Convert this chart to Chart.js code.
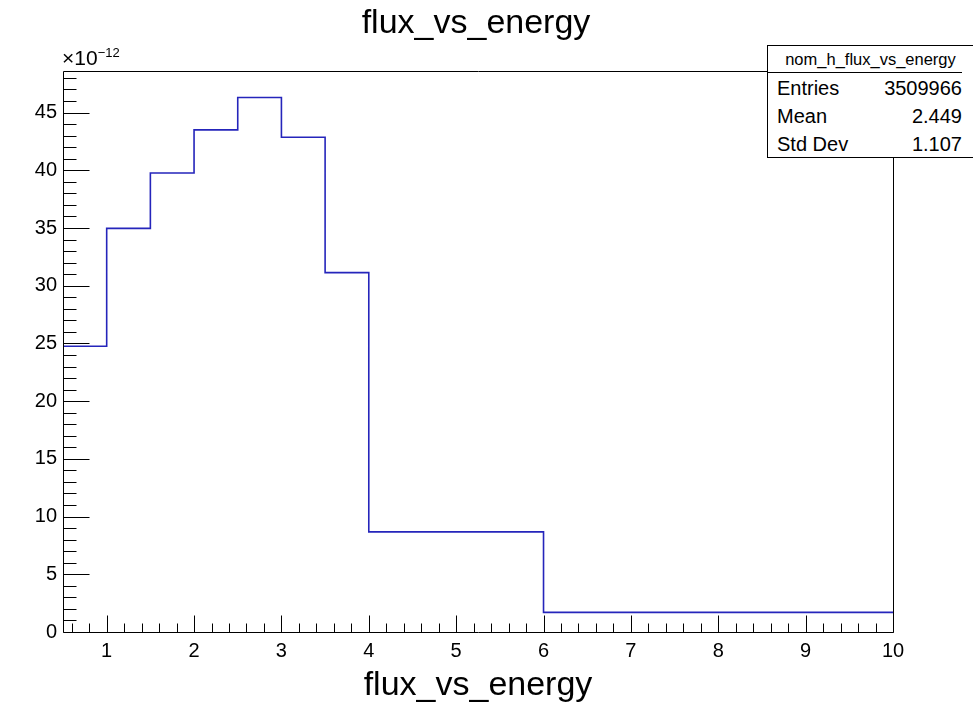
<!DOCTYPE html>
<html>
<head>
<meta charset="utf-8">
<title>flux_vs_energy</title>
<script src="https://cdn.jsdelivr.net/npm/chart.js@4.4.1/dist/chart.umd.min.js"></script>
<style>
  html, body { margin: 0; padding: 0; background: #fff; overflow: hidden; }
  #wrap { position: relative; width: 973px; height: 705px; }
  #flux-chart { position: absolute; left: 0; top: 0; }
  .overlay { position: absolute; font-family: "Liberation Sans", Arial, sans-serif; color: #000; }
  #main-title { left: 276px; top: 0px; width: 400px; text-align: center; font-size: 34px; line-height: 42px; }
  #exponent { left: 62px; top: 46px; font-size: 21px; line-height: 24px; }
  #exponent sup { font-size: 13px; vertical-align: 8px; line-height: 0; }
  #stats { left: 767px; top: 45px; width: 215px; height: 113px; box-sizing: border-box;
           border: 1px solid #000; background: #fff; }
  #stats .head { height: 26px; line-height: 27px; font-size: 16.5px; border-bottom: 1px solid #000;
                 padding-left: 11px; width: 183px; text-align: center; }
  #stats .row { height: 28px; line-height: 28px; font-size: 20px; display: flex;
                justify-content: space-between; width: 185px; padding-left: 9px; }
  #stats .rows { padding-top: 1px; }
</style>
</head>
<body>
<div id="wrap">
  <canvas id="flux-chart" width="973" height="705"></canvas>
  <div class="overlay" id="main-title">flux_vs_energy</div>
  <div class="overlay" id="exponent">×10<sup>−12</sup></div>
  <div class="overlay" id="stats">
    <div class="head">nom_h_flux_vs_energy</div>
    <div class="rows" id="stats-rows"></div>
  </div>
</div>
<script>
// histogram bins (energy edges) and flux contents in units of 1e-12
const binEdges = [0.5, 1, 1.5, 2, 2.5, 3, 3.5, 4, 6, 10];
const fluxE12 = [24.75, 34.97, 39.77, 43.5, 46.3, 42.86, 31.13, 8.67, 1.70];
const xTicks = [1, 2, 3, 4, 5, 6, 7, 8, 9, 10];
const yTicks = [0, 5, 10, 15, 20, 25, 30, 35, 40, 45];
const statNames = ["Entries", "Mean", "Std Dev"];
const statValues = ["3509966", "2.449", "1.107"];

const xMin = 0.5, xMax = 10, yMin = 0, yMax = 48.6;

// stats box
const statsRows = document.getElementById("stats-rows");
statNames.forEach((name, i) => {
    statsRows.insertAdjacentHTML("beforeend",
        `<div class="row"><span>${name}</span><span>${statValues[i]}</span></div>`);
});

// step points: each bin's low edge, plus the last upper edge
const points = fluxE12.map((v, i) => ({ x: binEdges[i], y: v }));
points.push({ x: binEdges[binEdges.length - 1], y: fluxE12[fluxE12.length - 1] });

// ROOT style frame with inward ticks
const rootFrame = {
    id: "rootFrame",
    afterDatasetsDraw(chart) {
        const { ctx, chartArea: a, scales: { x, y } } = chart;
        ctx.save();
        ctx.strokeStyle = "#000";
        ctx.lineWidth = 1;
        ctx.beginPath();
        const L = Math.round(a.left) + 0.5, R = Math.round(a.right) + 0.5;
        const T = Math.round(a.top) + 0.5, B = Math.round(a.bottom) + 0.5;
        ctx.moveTo(L, B); ctx.lineTo(L, T); ctx.lineTo(R, T); ctx.lineTo(R, B); ctx.lineTo(L, B);

        // y ticks: minor every 1, major every 5
        for (let v = yMin; v <= yMax; v += 1) {
            const py = Math.round(y.getPixelForValue(v)) + 0.5;
            const len = yTicks.includes(v) ? 26 : 13;
            ctx.moveTo(L, py); ctx.lineTo(L + len, py);
        }
        // x ticks: minor every 0.2, major every 1
        for (let i = Math.ceil(xMin * 5); i <= xMax * 5; i++) {
            const px = Math.round(x.getPixelForValue(i / 5)) + 0.5;
            const len = i % 5 === 0 ? 17 : 9;
            ctx.moveTo(px, B); ctx.lineTo(px, B - len);
        }
        ctx.stroke();
        ctx.restore();
    }
};

Chart.defaults.color = "#000";
Chart.defaults.font.family = '"Liberation Sans", Arial, sans-serif';

new Chart(document.getElementById("flux-chart"), {
    type: "line",
    data: {
        datasets: [{
            data: points,
            stepped: "before",
            borderColor: "#2525bb",
            borderWidth: 1.6,
            pointRadius: 0,
            fill: false
        }]
    },
    options: {
        responsive: false,
        animation: false,
        devicePixelRatio: 1,
        layout: { padding: { left: 0, right: 80, top: 71, bottom: 0 } },
        plugins: {
            legend: { display: false },
            tooltip: { enabled: false },
            title: { display: false }
        },
        scales: {
            x: {
                type: "linear",
                min: xMin,
                max: xMax,
                bounds: "data",
                grid: { display: false, drawTicks: false },
                border: { display: false },
                afterBuildTicks: (scale) => { scale.ticks = xTicks.map((v) => ({ value: v })); },
                afterFit: (scale) => { scale.height = 73; },
                ticks: {
                    font: { size: 20 },
                    padding: 7,
                    maxRotation: 0,
                    autoSkip: false,
                    callback: (v) => String(v)
                },
                title: {
                    display: true,
                    text: "flux_vs_energy",
                    font: { size: 34, lineHeight: 1 },
                    padding: { top: 0, bottom: 2 }
                }
            },
            y: {
                type: "linear",
                min: yMin,
                max: yMax,
                bounds: "data",
                grid: { display: false, drawTicks: false },
                border: { display: false },
                afterBuildTicks: (scale) => { scale.ticks = yTicks.map((v) => ({ value: v })); },
                afterFit: (scale) => { scale.width = 63; },
                ticks: {
                    font: { size: 20 },
                    padding: 6,
                    autoSkip: false,
                    callback: (v) => String(v)
                }
            }
        }
    },
    plugins: [rootFrame]
});
</script>
</body>
</html>
